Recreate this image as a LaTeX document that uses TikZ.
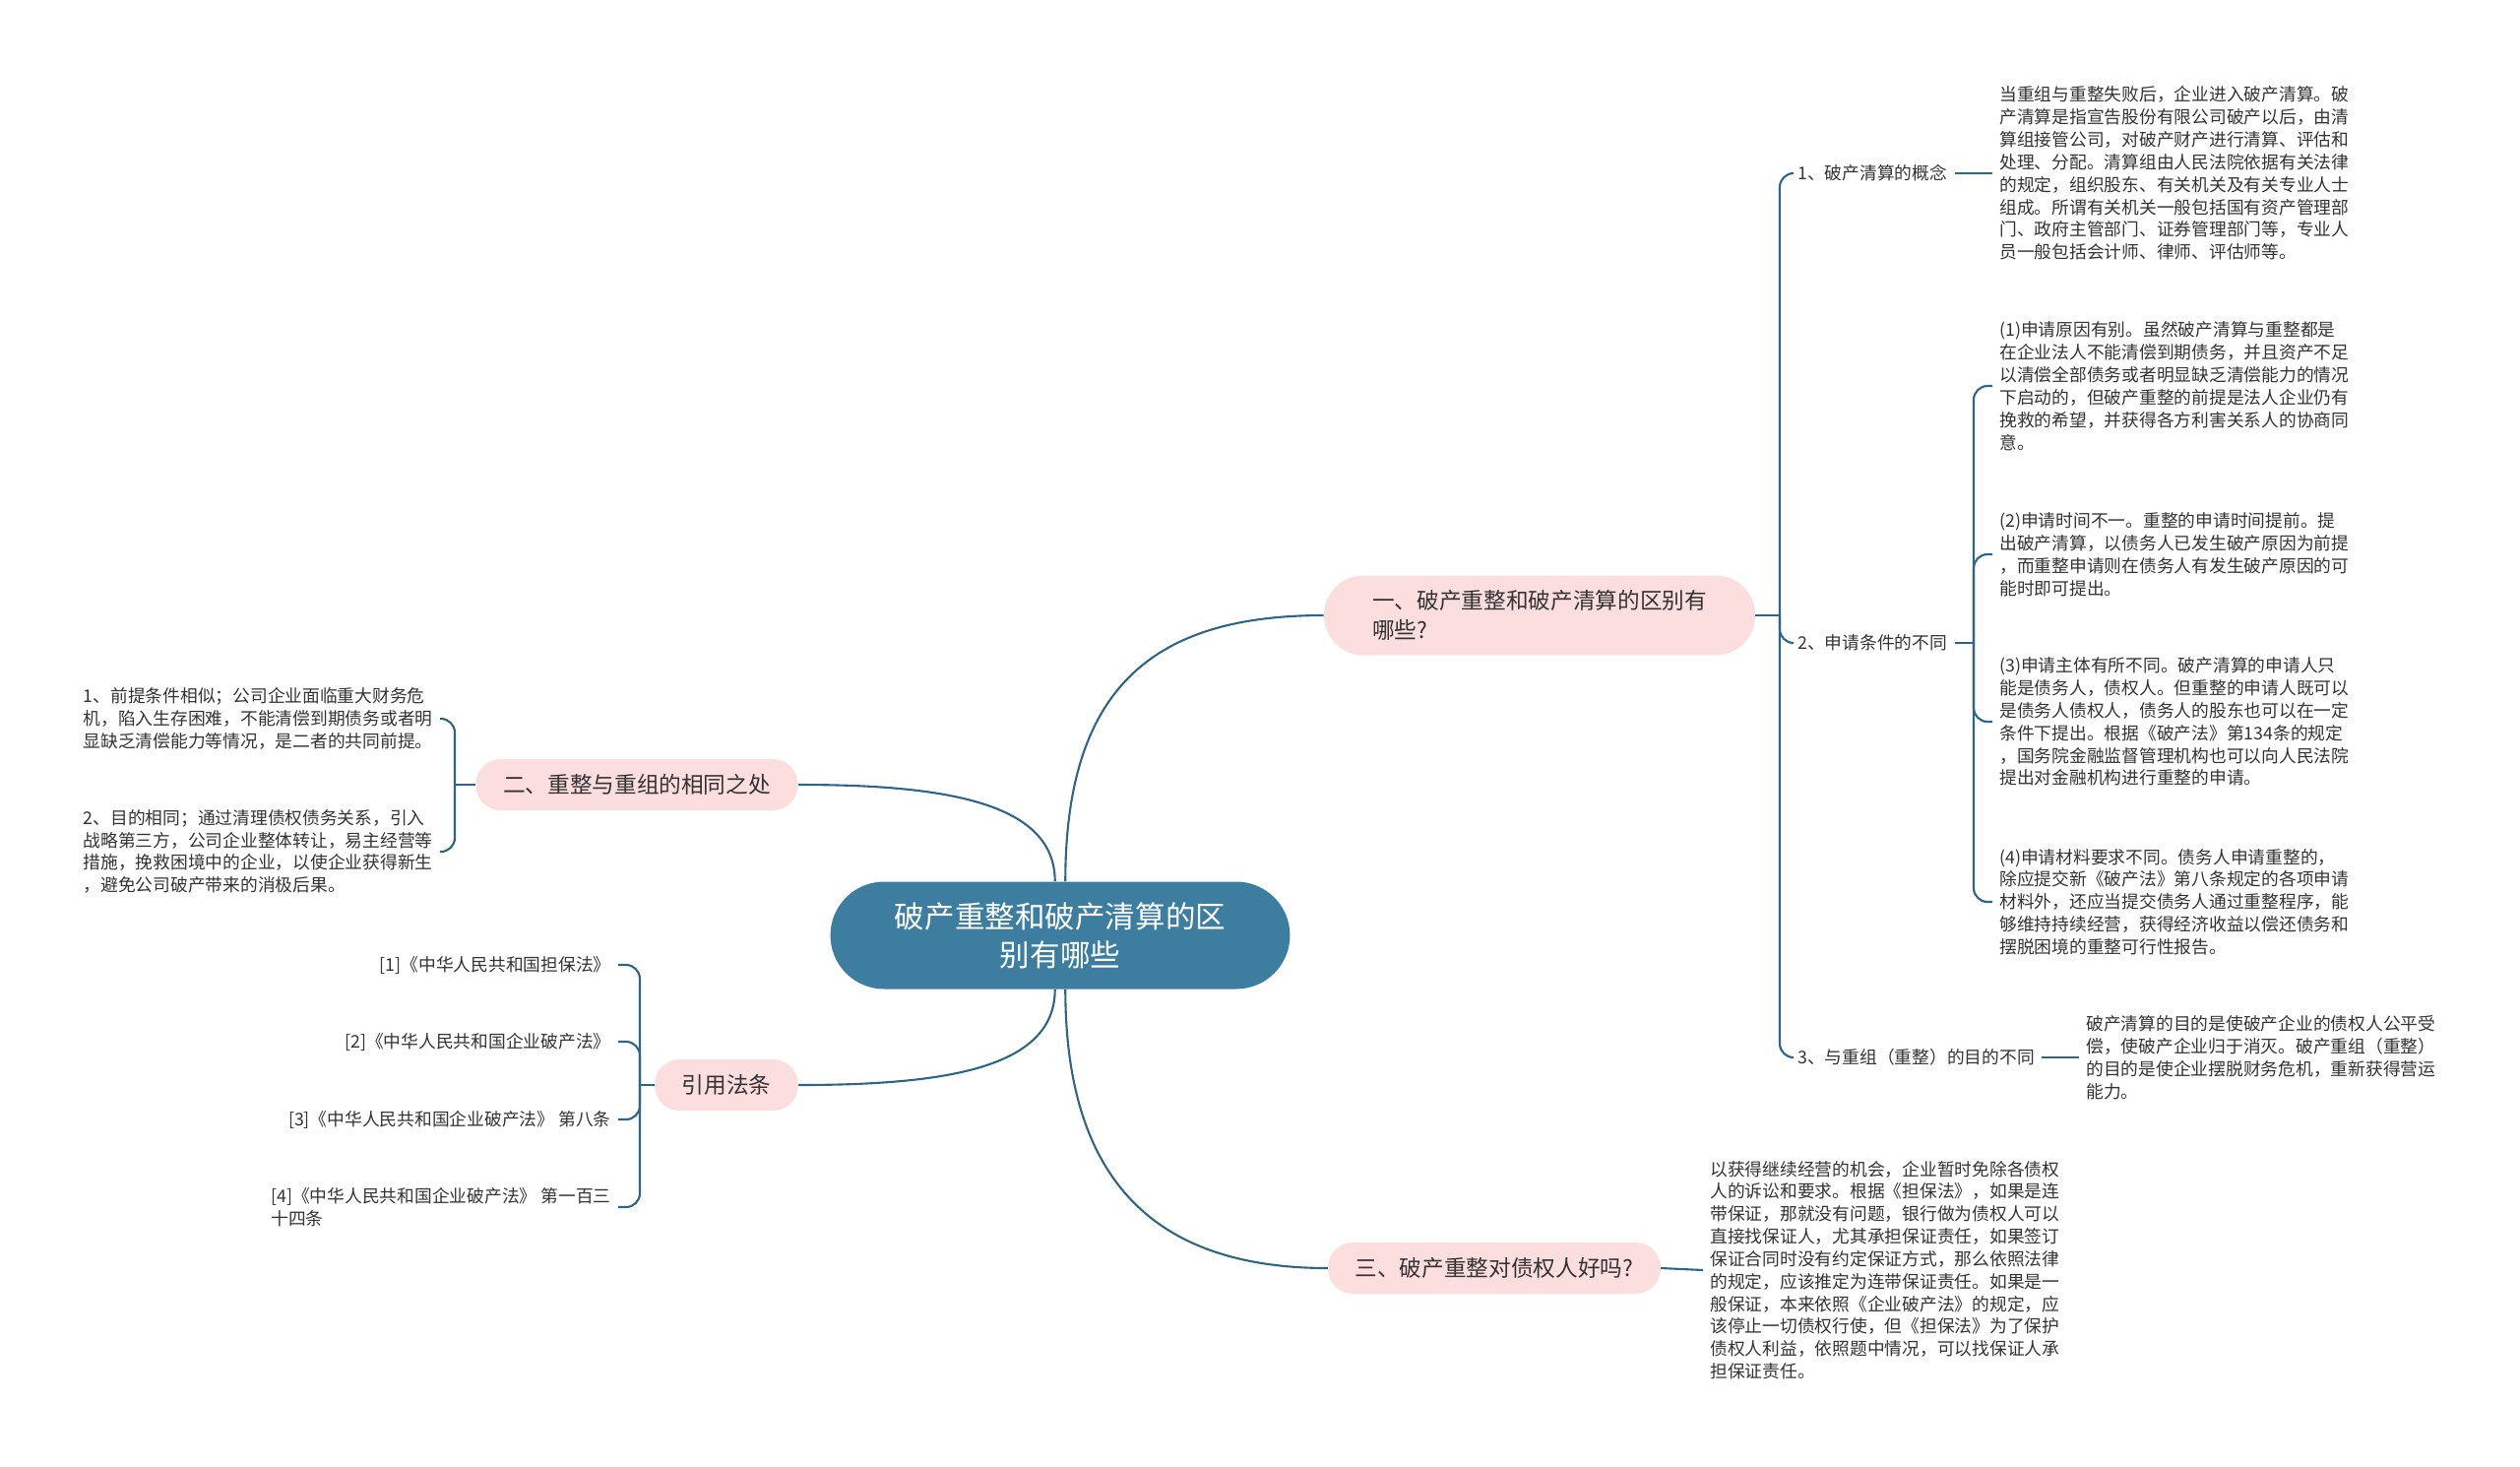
\documentclass[tikz,border=0pt]{standalone}
\usepackage{fontspec}
\setmainfont{Noto Sans CJK SC}
\usepackage{tikz}
\usetikzlibrary{positioning,calc}
\definecolor{rootblue}{RGB}{61,125,160}
\definecolor{linkblue}{RGB}{46,100,134}
\definecolor{branchpink}{RGB}{252,222,222}
\definecolor{leafgray}{RGB}{51,51,51}

\begin{document}
\begin{tikzpicture}[x=0.02cm, y=-0.02cm,
    every node/.style={text=leafgray},
    link/.style={draw=linkblue, line width=1.2pt},
    bracket/.style={link, rounded corners=8pt},
    rootbox/.style={fill=rootblue, text=white, align=center, rounded corners=1.09cm,
      minimum width=9.34cm, minimum height=2.18cm, font=\fontsize{17.4}{22.3}\selectfont},
    branchbox/.style={fill=branchpink, rounded corners=0.5cm, inner xsep=0.55cm,
      minimum height=1.04cm, font=\fontsize{12.9}{16.7}\selectfont},
    leaf/.style={align=left, inner xsep=4pt, inner ysep=1pt,
      font=\fontsize{10.1}{13}\selectfont}]
  \useasboundingbox (0,0) rectangle (2560,1489);

  % centre and main branches
  \node[rootbox] (root) at (1077,950) {破产重整和破产清算的区\\别有哪些};
  \node[branchbox, align=left, minimum width=8.76cm, minimum height=1.62cm,
        rounded corners=0.8cm] (b1) at (1564,625)
      {一、破产重整和破产清算的区别有\\哪些?};
  \node[branchbox] (b2) at (647,797) {二、重整与重组的相同之处};
  \node[branchbox] (b3) at (738,1102) {引用法条};
  \node[branchbox] (b4) at (1518,1288) {三、破产重整对债权人好吗?};

  \draw[link] ([xshift=3pt]root.north) .. controls +(0,-200) and +(-170,0) .. (b1.west);
  \draw[link] ([xshift=-3pt]root.north) .. controls +(0,-80) and +(150,0) .. (b2.east);
  \draw[link] ([xshift=-3pt]root.south) .. controls +(0,80) and +(150,0) .. (b3.east);
  \draw[link] ([xshift=3pt]root.south) .. controls +(0,200) and +(-170,0) .. (b4.west);

  % branch one
  \node[leaf, anchor=west] (c11) at (1819,176) {1、破产清算的概念};
  \node[leaf, anchor=west] (c12) at (1819,653) {2、申请条件的不同};
  \node[leaf, anchor=west] (c13) at (1819,1074) {3、与重组（重整）的目的不同};
  \coordinate (j1) at (1808,625);
  \draw[link] (b1.east) -- (j1);
  \foreach \c in {c11,c12,c13}
    \draw[bracket] (j1) |- (\c.west);

  \node[leaf, anchor=west] (t11) at (2024,176)
      {当重组与重整失败后，企业进入破产清算。破\\
       产清算是指宣告股份有限公司破产以后，由清\\
       算组接管公司，对破产财产进行清算、评估和\\
       处理、分配。清算组由人民法院依据有关法律\\
       的规定，组织股东、有关机关及有关专业人士\\
       组成。所谓有关机关一般包括国有资产管理部\\
       门、政府主管部门、证券管理部门等，专业人\\
       员一般包括会计师、律师、评估师等。};
  \draw[link] (c11.east) -- (t11.west);

  \node[leaf, anchor=west] (d1) at (2024,392)
      {(1)申请原因有别。虽然破产清算与重整都是\\
       在企业法人不能清偿到期债务，并且资产不足\\
       以清偿全部债务或者明显缺乏清偿能力的情况\\
       下启动的，但破产重整的前提是法人企业仍有\\
       挽救的希望，并获得各方利害关系人的协商同\\
       意。};
  \node[leaf, anchor=west] (d2) at (2024,563)
      {(2)申请时间不一。重整的申请时间提前。提\\
       出破产清算，以债务人已发生破产原因为前提\\
       ，而重整申请则在债务人有发生破产原因的可\\
       能时即可提出。};
  \node[leaf, anchor=west] (d3) at (2024,733)
      {(3)申请主体有所不同。破产清算的申请人只\\
       能是债务人，债权人。但重整的申请人既可以\\
       是债务人债权人，债务人的股东也可以在一定\\
       条件下提出。根据《破产法》第134条的规定\\
       ，国务院金融监督管理机构也可以向人民法院\\
       提出对金融机构进行重整的申请。};
  \node[leaf, anchor=west] (d4) at (2024,916)
      {(4)申请材料要求不同。债务人申请重整的，\\
       除应提交新《破产法》第八条规定的各项申请\\
       材料外，还应当提交债务人通过重整程序，能\\
       够维持持续经营，获得经济收益以偿还债务和\\
       摆脱困境的重整可行性报告。};
  \coordinate (j12) at (2005,653);
  \draw[link] (c12.east) -- (j12);
  \foreach \d in {d1,d2,d3,d4}
    \draw[bracket] (j12) |- (\d.west);

  \node[leaf, anchor=west] (t13) at (2112,1074)
      {破产清算的目的是使破产企业的债权人公平受\\
       偿，使破产企业归于消灭。破产重组（重整）\\
       的目的是使企业摆脱财务危机，重新获得营运\\
       能力。};
  \draw[link] (c13.east) -- (t13.west);

  % branch three (right, bottom)
  \node[leaf, anchor=west] (t4) at (1730,1290)
      {以获得继续经营的机会，企业暂时免除各债权\\
       人的诉讼和要求。根据《担保法》，如果是连\\
       带保证，那就没有问题，银行做为债权人可以\\
       直接找保证人，尤其承担保证责任，如果签订\\
       保证合同时没有约定保证方式，那么依照法律\\
       的规定，应该推定为连带保证责任。如果是一\\
       般保证，本来依照《企业破产法》的规定，应\\
       该停止一切债权行使，但《担保法》为了保护\\
       债权人利益，依照题中情况，可以找保证人承\\
       担保证责任。};
  \draw[link] (b4.east) -- (t4.west);

  % branch two
  \node[leaf, anchor=east] (l1) at (447,730)
      {1、前提条件相似；公司企业面临重大财务危\\
       机，陷入生存困难，不能清偿到期债务或者明\\
       显缺乏清偿能力等情况，是二者的共同前提。};
  \node[leaf, anchor=east] (l2) at (447,865)
      {2、目的相同；通过清理债权债务关系，引入\\
       战略第三方，公司企业整体转让，易主经营等\\
       措施，挽救困境中的企业，以使企业获得新生\\
       ，避免公司破产带来的消极后果。};
  \coordinate (j2) at (462,797);
  \draw[link] (b2.west) -- (j2);
  \foreach \l in {l1,l2}
    \draw[bracket] (j2) |- (\l.east);

  % references
  \node[leaf, anchor=east] (r1) at (628,980) {[1]《中华人民共和国担保法》};
  \node[leaf, anchor=east] (r2) at (628,1058) {[2]《中华人民共和国企业破产法》};
  \node[leaf, anchor=east] (r3) at (628,1137) {[3]《中华人民共和国企业破产法》 第八条};
  \node[leaf, anchor=east] (r4) at (628,1226)
      {[4]《中华人民共和国企业破产法》 第一百三\\十四条};
  \coordinate (j3) at (650,1102);
  \draw[link] (b3.west) -- (j3);
  \foreach \r in {r1,r2,r3,r4}
    \draw[bracket] (j3) |- (\r.east);
\end{tikzpicture}
\end{document}
